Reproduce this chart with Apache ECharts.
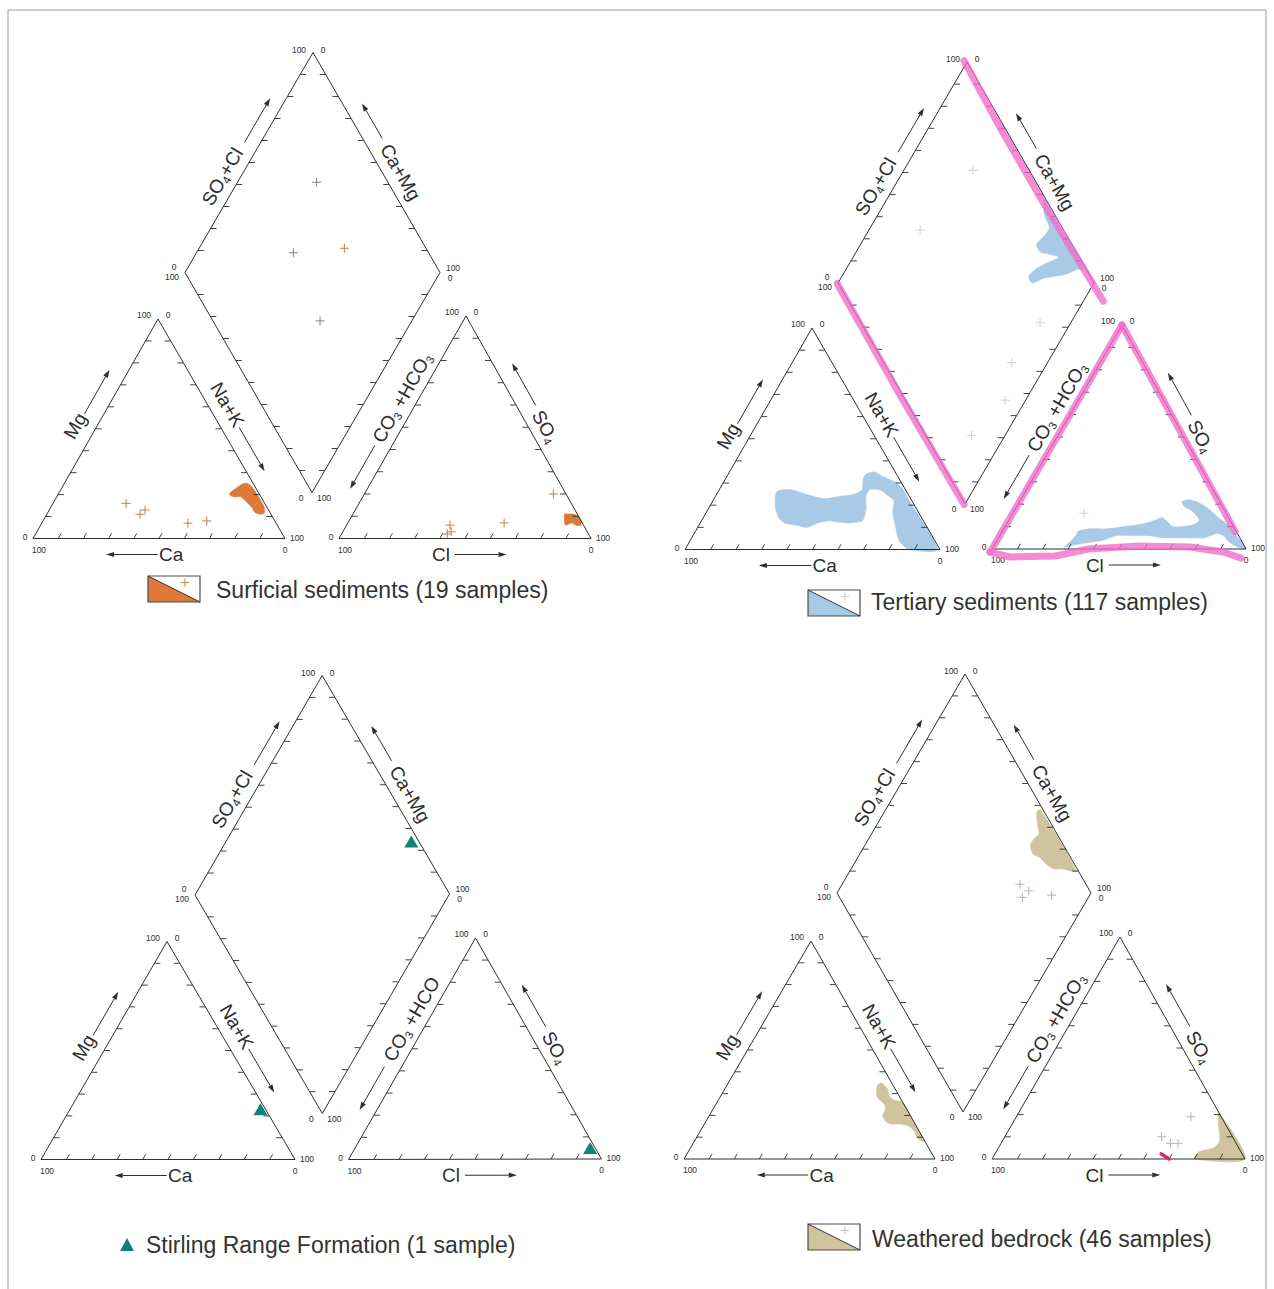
<!DOCTYPE html>
<html>
<head>
<meta charset="utf-8">
<title>Piper diagrams</title>
<script src="https://cdn.jsdelivr.net/npm/echarts@6/dist/echarts.min.js"></script>
<style>
html,body{margin:0;padding:0;background:#ffffff;}
#chart{width:1274px;height:1289px;}
</style>
</head>
<body>
<div id="chart"></div>
<script>
// ================= DATA (percent of meq/L) =================
// Cation triangle: [Ca, Mg, Na+K]
// Anion triangle:  [CO3+HCO3, SO4, Cl]
// Diamond:         [SO4+Cl, Ca+Mg]

// --- Surficial sediments (19 samples)
const surfCationSamples = [[55,16,29],[52,11,37],[49,13,38],[35,7,58],[27,8,65]];
const surfCationField = [[11,21,68],[6,24,70],[4,25,71],[2,25,73],[1,22,77],[1,15,84],[2,12,86],[4,11,85],[6,12,82],[6,14,80],[7,17,76],[8,19,73],[11,19,70],[12,20,68]];
const surfAnionSamples = [[53,6,41],[54,3,43],[56,2,42],[31,7,62],[5,20,75]];
const surfAnionField = [[5,11,84],[4,11,85],[2,11,87],[0,10,90],[0,8,92],[1,6,93],[3,6,91],[4,7,89],[7,6,87],[7,7,86]];
const surfDiamondSamples = [[72,69],[47,62],[42,36]];
const surfDiamondSamplesOrange = [[68,43]];

// --- Tertiary sediments (117 samples)
const tertCationField = [[51,26,23],[45,27,28],[40,25,35],[34,23,43],[27,24,49],[21,25,54],[17,27,56],[14,32,54],[12,34,54],[8,35,57],[6,33,61],[3,31,66],[1,28,71],[1,21,78],[1,0,99],[12,0,88],[14,4,82],[12,11,77],[10,17,73],[7,22,71],[8,24,68],[10,27,63],[14,27,59],[17,24,59],[20,18,62],[24,13,63],[31,12,57],[37,13,50],[42,12,46],[47,10,43],[51,11,38],[55,12,33],[56,14,30],[55,19,26]];
const tertAnionField = [[62,8,30],[57,9,34],[50,9,41],[43,10,47],[36,11,53],[32,12,56],[29,13,58],[26,14,60],[25,12,63],[24,10,66],[20,10,70],[15,11,74],[12,13,75],[13,17,70],[15,19,66],[15,21,64],[12,22,66],[9,21,70],[6,18,76],[4,14,82],[2,11,87],[1,6,93],[0,2,98],[0,0,100],[3,1,96],[5,3,92],[6,6,88],[8,7,85],[11,6,83],[14,5,81],[19,5,76],[25,5,70],[30,5,65],[36,6,58],[41,6,53],[48,6,46],[54,4,42],[60,3,37],[66,2,32],[71,1,28],[68,3,29],[64,6,30]];
const tertAnionSamples = [[56,16,28]];
const tertDiamondField = [[99,40],[99,8],[96,10],[91,13],[86,17],[81,21],[76,24],[76,27],[80,26],[86,23],[91,20],[92,20],[89,24],[86,28],[86,31],[88,31],[92,30],[95,30],[96,35],[99,39]];
const tertDiamondSamples = [[44,80],[78,73],[70,12],[50,14],[39,8],[18,13]];

// --- Stirling Range Formation (1 sample)
const stirCationSamples = [[2,23,75]];
const stirAnionSamples = [[2,5,93]];
const stirDiamondSamples = [[97,27]];

// --- Weathered bedrock (46 samples)
const weathCationField = [[6,34,60],[4,35,61],[3,32,65],[4,29,67],[3,27,70],[0,26,74],[0,15,85],[0,8,92],[2,9,89],[2,13,85],[3,15,82],[6,16,78],[9,16,75],[11,17,72],[11,20,69],[9,22,69],[8,24,68],[8,26,66],[9,28,63],[8,31,61]];
const weathAnionField = [[0,21,79],[3,15,82],[5,10,85],[7,7,86],[10,5,85],[14,4,82],[17,3,80],[20,0,80],[0,0,100]];
const weathAnionSamples = [[12,19,69],[28,10,62],[26,7,67],[23,7,70]];
const weathAnionPenMark = [[32,2.3,65.7],[30,0,70]];
const weathDiamondField = [[99,39],[97,40],[94,36],[93,34],[89,35],[87,35],[86,32],[88,28],[89,24],[91,20],[94,17],[99,11]];
const weathDiamondSamples = [[74,30],[76,25],[72,26],[84,15]];

// --- Texts
const legendTexts = ['Surficial sediments (19 samples)','Tertiary sediments (117 samples)','Stirling Range Formation (1 sample)','Weathered bedrock (46 samples)'];
const tickLo = '0', tickHi = '100';
const axisTitles = {so4cl:'{a|SO}{s|4}{a|+Cl}', camg:'{a|Ca+Mg}', mg:'{a|Mg}', nak:'{a|Na+K}', ca:'{a|Ca}', hco3:'{a|CO}{s|3}{a| +HCO}{s|3}', hco3short:'{a|CO}{s|3}{a| +HCO}', so4:'{a|SO}{s|4}', cl:'{a|Cl}'};

// ================= LAYOUT =================
const W = 1274, H = 1289;
const FONT = '"Liberation Sans", Arial, Helvetica, sans-serif';
const INK = '#2e2e2e';
const TICK = 6;

function mk(dia, cat, an){ dia.T = [dia.L[0]+dia.R[0]-dia.B[0], dia.L[1]+dia.R[1]-dia.B[1]]; return {dia, cat, an}; }
const GEOM = [
  mk({L:[185,272.5],R:[440,272.5],B:[312,492.5]}, {BL:[33,538.5],BR:[285,538.5],T:[158,319]}, {BL:[339,538.5],BR:[591,538.5],T:[466,316]}),
  mk({L:[838,283],R:[1094,283],B:[965,504]}, {BL:[685,549.5],BR:[940,549.5],T:[812,328]}, {BL:[992,549],BR:[1246,549],T:[1122,325]}),
  mk({L:[195,895],R:[449.5,894],B:[322.3,1113.5]}, {BL:[41,1159.5],BR:[295,1159.5],T:[167,941.5]}, {BL:[348.5,1159.5],BR:[601.5,1159],T:[475.5,938]}),
  mk({L:[837,893],R:[1091,893],B:[963,1112]}, {BL:[684,1159],BR:[935,1159],T:[811,941]}, {BL:[992,1159],BR:[1245,1159],T:[1120,937]})
];

const TITLES = [
  {g:'dia', A:'L', B:'T', t:0.40, d:16, key:'so4cl'},
  {g:'dia', A:'T', B:'R', t:0.58, d:16, key:'camg'},
  {g:'cat', A:'BL', B:'T', t:0.47, d:19, key:'mg'},
  {g:'cat', A:'T', B:'BR', t:0.43, d:17, key:'nak'},
  {g:'cat', A:'BL', B:'BR', t:0.548, d:-16, key:'ca'},
  {g:'an', A:'BL', B:'T', t:0.60, d:15, key:'hco3'},
  {g:'an', A:'T', B:'BR', t:0.53, d:15, key:'so4'},
  {g:'an', A:'BL', B:'BR', t:0.405, d:-16, key:'cl'}
];
const ARROWS = [
  {g:'dia', A:'L', B:'T', t0:0.56, t1:0.76, d:14},
  {g:'dia', A:'T', B:'R', t0:0.43, t1:0.27, d:17},
  {g:'cat', A:'BL', B:'T', t0:0.53, t1:0.73, d:17},
  {g:'cat', A:'T', B:'BR', t0:0.53, t1:0.73, d:16},
  {g:'cat', A:'BL', B:'BR', t0:0.495, t1:0.29, d:-16},
  {g:'an', A:'BL', B:'T', t0:0.385, t1:0.19, d:15},
  {g:'an', A:'T', B:'BR', t0:0.44, t1:0.25, d:17},
  {g:'an', A:'BL', B:'BR', t0:0.46, t1:0.665, d:-16}
];
const LEGENDS = [
  {kind:'swatch', x:148, y:576, fill:'#dd7a38', cross:'#d08a50', tx:216, ty:590},
  {kind:'swatch', x:808, y:590, fill:'#a8cae6', cross:'#cfcfcf', tx:871, ty:602},
  {kind:'marker', x:127, y:1245, fill:'#108474', tx:146, ty:1245},
  {kind:'swatch', x:808, y:1224, fill:'#cfc49e', cross:'#cdb9bb', tx:872, ty:1239}
];
// hand-drawn highlighter strokes on the Tertiary panel: [t, offset] along edges
const HIGHLIGHTS = [
  {g:'dia', A:'T', B:'R', pts:[[-0.01,-2],[0.3,-4],[0.6,-4],[0.9,-2],[1.08,-1]]},
  {g:'dia', A:'L', B:'B', pts:[[0,-1],[0.5,-2],[1.0,-1]]},
  {g:'an', A:'BL', B:'T', pts:[[-0.01,0],[1.0,0]]},
  {g:'an', A:'T', B:'BR', pts:[[0,0],[0.92,-1]]},
  {g:'an', A:'BL', B:'BR', pts:[[-0.01,-3],[0.07,-8],[0.25,-7],[0.38,0],[0.58,3],[0.78,2],[0.91,-3],[0.98,-9]]}
];

// ================= CONVERSIONS =================
function tern(g, v){ const s=v[0]+v[1]+v[2]; return [(v[0]*g.BL[0]+v[1]*g.T[0]+v[2]*g.BR[0])/s, (v[0]*g.BL[1]+v[1]*g.T[1]+v[2]*g.BR[1])/s]; }
function diam(g, v){ const s=v[0]/100, c=v[1]/100; return [g.B[0]+s*(g.R[0]-g.B[0])+c*(g.L[0]-g.B[0]), g.B[1]+s*(g.R[1]-g.B[1])+c*(g.L[1]-g.B[1])]; }
function ep(A,B,t,d){ const dx=B[0]-A[0], dy=B[1]-A[1], L=Math.hypot(dx,dy); return [A[0]+dx*t+(dy/L)*d, A[1]+dy*t-(dx/L)*d]; }

// ================= SERIES =================
const series = [];
function fieldSeries(pts, fill){
  series.push({type:'custom', coordinateSystem:'cartesian2d', silent:true, z:2, data:[pts[0]],
    renderItem:(p, api)=>({type:'polygon', shape:{points:pts.map(q=>api.coord(q)), smooth:0.25}, style:{fill:fill, stroke:fill, lineWidth:0.6}})});
}
function crossSeries(pts, color, size, width){
  const h=(size||9)/2, lw=width||1.1;
  series.push({type:'custom', coordinateSystem:'cartesian2d', silent:true, z:4, data:pts,
    renderItem:(p, api)=>{ const c=api.coord([api.value(0), api.value(1)]); return {type:'group', children:[
      {type:'line', shape:{x1:c[0]-h,y1:c[1],x2:c[0]+h,y2:c[1]}, style:{stroke:color, lineWidth:lw}},
      {type:'line', shape:{x1:c[0],y1:c[1]-h,x2:c[0],y2:c[1]+h}, style:{stroke:color, lineWidth:lw}}]}; }});
}
function triSeries(pts, color){
  series.push({type:'scatter', silent:true, z:5, data:pts, symbol:'triangle', symbolSize:[14,12], itemStyle:{color:color, opacity:1}});
}
function strokeSeries(pts, color, width, opacity, z){
  series.push({type:'custom', coordinateSystem:'cartesian2d', silent:true, z:z||6, data:[pts[0]],
    renderItem:(p, api)=>({type:'polyline', shape:{points:pts.map(q=>api.coord(q))}, style:{stroke:color, lineWidth:width, opacity:opacity, fill:null, lineCap:'round', lineJoin:'round'}})});
}

const RICH = {
  a:{fontSize:19, fontFamily:FONT, fill:INK, lineHeight:23, verticalAlign:'middle'},
  s:{fontSize:11.5, fontFamily:FONT, fill:INK, lineHeight:12, verticalAlign:'bottom'}
};

function buildFrame(gi, api, hco3Key){
  const G = GEOM[gi];
  const C = q => api.coord(q);
  const ch = [];
  const st = {stroke:INK, lineWidth:1, fill:null};
  ch.push({type:'polygon', shape:{points:[G.cat.BL,G.cat.BR,G.cat.T].map(C)}, style:Object.assign({},st)});
  ch.push({type:'polygon', shape:{points:[G.an.BL,G.an.BR,G.an.T].map(C)}, style:Object.assign({},st)});
  ch.push({type:'polygon', shape:{points:[G.dia.L,G.dia.T,G.dia.R,G.dia.B].map(C)}, style:Object.assign({},st)});
  const tickEdges = [
    [G.cat.BL,G.cat.BR,[0.5,-0.866]],[G.cat.BL,G.cat.T,[1,0]],[G.cat.T,G.cat.BR,[-1,0]],
    [G.an.BL,G.an.BR,[0.5,-0.866]],[G.an.BL,G.an.T,[1,0]],[G.an.T,G.an.BR,[-1,0]],
    [G.dia.L,G.dia.T,[1,0]],[G.dia.T,G.dia.R,[-1,0]],[G.dia.L,G.dia.B,[1,0]],[G.dia.B,G.dia.R,[-1,0]]];
  tickEdges.forEach(e=>{
    const A=e[0], B=e[1], dir=e[2];
    for(let i=1;i<10;i++){
      const t=i/10, q=[A[0]+(B[0]-A[0])*t, A[1]+(B[1]-A[1])*t];
      const a=C(q), b=C([q[0]+dir[0]*TICK, q[1]+dir[1]*TICK]);
      ch.push({type:'line', shape:{x1:a[0],y1:a[1],x2:b[0],y2:b[1]}, style:{stroke:INK, lineWidth:0.9}});
    }
  });
  const small = (pt, dx, dy, s) => { const c=C([pt[0]+dx, pt[1]+dy]); ch.push({type:'text', x:c[0], y:c[1], style:{text:s, fontSize:8.5, fontFamily:FONT, fill:INK, align:'center', verticalAlign:'middle'}}); };
  [G.cat, G.an].forEach(T=>{
    small(T.T,-14,-4,tickHi); small(T.T,10,-4,tickLo);
    small(T.BL,-8,-2,tickLo); small(T.BL,6,11,tickHi);
    small(T.BR,12,-1,tickHi); small(T.BR,0,11,tickLo);
  });
  const D=G.dia;
  small(D.T,-14,-3,tickHi); small(D.T,10,-3,tickLo);
  small(D.L,-11,-6,tickLo); small(D.L,-13,4,tickHi);
  small(D.R,13,-5,tickHi); small(D.R,10,5,tickLo);
  small(D.B,-11,5,tickLo); small(D.B,12,5,tickHi);
  TITLES.forEach(tt=>{
    const A=G[tt.g][tt.A], B=G[tt.g][tt.B];
    const c=C(ep(A,B,tt.t,tt.d));
    const rot=Math.atan2(-(B[1]-A[1]), B[0]-A[0]);
    const txt = tt.key==='hco3' ? axisTitles[hco3Key] : axisTitles[tt.key];
    ch.push({type:'text', x:c[0], y:c[1], rotation:rot, style:{text:txt, rich:RICH, fontSize:19, fontFamily:FONT, fill:INK, align:'center', verticalAlign:'middle'}});
  });
  ARROWS.forEach(ar=>{
    const A=G[ar.g][ar.A], B=G[ar.g][ar.B];
    const a=C(ep(A,B,ar.t0,ar.d)), b=C(ep(A,B,ar.t1,ar.d));
    const dx=b[0]-a[0], dy=b[1]-a[1], L=Math.hypot(dx,dy), ux=dx/L, uy=dy/L;
    const hl=8, hw=2.6, base=[b[0]-ux*hl, b[1]-uy*hl];
    ch.push({type:'line', shape:{x1:a[0],y1:a[1],x2:base[0],y2:base[1]}, style:{stroke:INK, lineWidth:1}});
    ch.push({type:'polygon', shape:{points:[b,[base[0]-uy*hw, base[1]+ux*hw],[base[0]+uy*hw, base[1]-ux*hw]]}, style:{fill:INK}});
  });
  // legend
  const Lg = LEGENDS[gi];
  if (Lg.kind==='swatch'){
    const x=Lg.x, y=Lg.y, w=52, h=26;
    ch.push({type:'polygon', shape:{points:[[x,y],[x,y+h],[x+w,y+h]].map(C)}, style:{fill:Lg.fill}});
    const r0=C([x,y]), r1=C([x+w,y+h]);
    ch.push({type:'rect', shape:{x:r0[0], y:r0[1], width:r1[0]-r0[0], height:r1[1]-r0[1]}, style:{fill:null, stroke:'#4a4a4a', lineWidth:1.2}});
    ch.push({type:'line', shape:{x1:r0[0],y1:r0[1],x2:r1[0],y2:r1[1]}, style:{stroke:'#333', lineWidth:1}});
    const cc=C([x+w*0.71, y+h*0.25]);
    ch.push({type:'line', shape:{x1:cc[0]-4,y1:cc[1],x2:cc[0]+4,y2:cc[1]}, style:{stroke:Lg.cross, lineWidth:1.1}});
    ch.push({type:'line', shape:{x1:cc[0],y1:cc[1]-4,x2:cc[0],y2:cc[1]+4}, style:{stroke:Lg.cross, lineWidth:1.1}});
  } else {
    const c=C([Lg.x, Lg.y]);
    ch.push({type:'polygon', shape:{points:[[c[0],c[1]-7],[c[0]-7,c[1]+6],[c[0]+7,c[1]+6]]}, style:{fill:Lg.fill}});
  }
  const tp=C([Lg.tx, Lg.ty]);
  ch.push({type:'text', x:tp[0], y:tp[1], style:{text:legendTexts[gi], fontSize:23, fontFamily:FONT, fill:'#333', align:'left', verticalAlign:'middle'}});
  return ch;
}
function frameSeries(gi, hco3Key){
  series.push({type:'custom', coordinateSystem:'cartesian2d', silent:true, z:3, data:[[0,0]],
    renderItem:(p, api)=>({type:'group', children:buildFrame(gi, api, hco3Key)})});
}

// Panel 0: Surficial
let G = GEOM[0];
fieldSeries(surfCationField.map(v=>tern(G.cat,v)), '#dd7a38');
fieldSeries(surfAnionField.map(v=>tern(G.an,v)), '#dd7a38');
frameSeries(0,'hco3');
crossSeries(surfCationSamples.map(v=>tern(G.cat,v)), '#cc8a55');
crossSeries(surfAnionSamples.map(v=>tern(G.an,v)), '#cc8a55');
crossSeries(surfDiamondSamples.map(v=>diam(G.dia,v)), '#8e8a88');
crossSeries(surfDiamondSamplesOrange.map(v=>diam(G.dia,v)), '#d08a48');

// Panel 1: Tertiary
G = GEOM[1];
fieldSeries(tertCationField.map(v=>tern(G.cat,v)), '#a8cae6');
fieldSeries(tertAnionField.map(v=>tern(G.an,v)), '#a8cae6');
fieldSeries(tertDiamondField.map(v=>diam(G.dia,v)), '#a8cae6');
frameSeries(1,'hco3');
crossSeries(tertAnionSamples.map(v=>tern(G.an,v)), '#d4d4d4');
crossSeries(tertDiamondSamples.map(v=>diam(G.dia,v)), '#d4d4d4');
HIGHLIGHTS.forEach(hl=>{
  const A=G[hl.g][hl.A], B=G[hl.g][hl.B];
  strokeSeries(hl.pts.map(q=>ep(A,B,q[0],q[1])), '#f06cc8', 7, 0.78, 7);
});

// Panel 2: Stirling Range Formation
G = GEOM[2];
frameSeries(2,'hco3short');
triSeries(stirCationSamples.map(v=>tern(G.cat,v)), '#108474');
triSeries(stirAnionSamples.map(v=>tern(G.an,v)), '#108474');
triSeries(stirDiamondSamples.map(v=>diam(G.dia,v)), '#108474');

// Panel 3: Weathered bedrock
G = GEOM[3];
fieldSeries(weathCationField.map(v=>tern(G.cat,v)), '#cfc49e');
fieldSeries(weathAnionField.map(v=>tern(G.an,v)), '#cfc49e');
fieldSeries(weathDiamondField.map(v=>diam(G.dia,v)), '#cfc49e');
frameSeries(3,'hco3');
crossSeries(weathAnionSamples.map(v=>tern(G.an,v)), '#c9b3b7');
crossSeries(weathDiamondSamples.map(v=>diam(G.dia,v)), '#c9b3b7');
strokeSeries(weathAnionPenMark.map(v=>tern(G.an,v)), '#e0245e', 3.5, 1, 7);

const chart = echarts.init(document.getElementById('chart'), null, {renderer:'svg', width:W, height:H});
chart.setOption({
  animation:false,
  backgroundColor:'#ffffff',
  grid:{left:0, right:0, top:0, bottom:0},
  xAxis:{type:'value', min:0, max:W, show:false},
  yAxis:{type:'value', min:0, max:H, inverse:true, show:false},
  graphic:[{type:'rect', silent:true, z:0, shape:{x:8, y:10, width:1258, height:1300}, style:{fill:null, stroke:'#9a9a9a', lineWidth:1}}],
  series:series
});
</script>
</body>
</html>
